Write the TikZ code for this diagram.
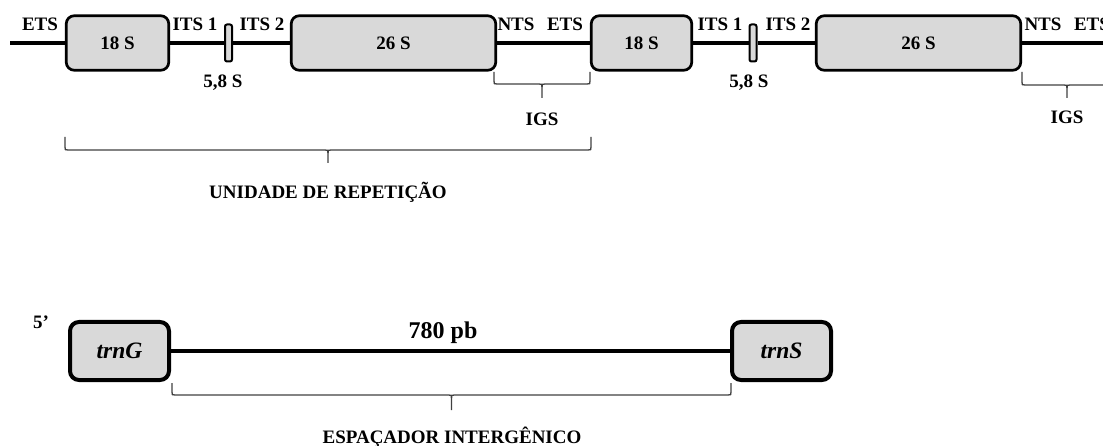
\documentclass[tikz,border=0pt]{standalone}
\usepackage{fontspec}
\setmainfont{Liberation Serif}
\definecolor{boxgray}{HTML}{D9D9D9}
\definecolor{bracegray}{HTML}{404040}
\tikzset{
 lab/.style={font=\fontsize{19}{22}\selectfont\bfseries, inner sep=0pt, anchor=base},
 rbox/.style={draw=black, fill=boxgray, line width=2.7pt, rounded corners=8pt, inner sep=0pt, minimum height=54.5pt, font=\fontsize{19}{22}\selectfont\bfseries},
 sbox/.style={draw=black, fill=boxgray, line width=2pt, rounded corners=2pt, inner sep=0pt, minimum width=7pt, minimum height=37pt},
 tbox/.style={draw=black, fill=boxgray, line width=4pt, rounded corners=9pt, inner sep=0pt, minimum width=99pt, minimum height=58pt, font=\fontsize{23.5}{26}\selectfont\bfseries\itshape},
 dna/.style={line width=4pt, line cap=butt},
 bracket/.style={draw=bracegray, line width=1.3pt},
}
\newcommand\myhbrace[5]{%
 \pgfmathsetmacro\bracemid{(#1+#2)/2}%
 \draw[bracket] (#1,#3) -- (#1,#4-3) .. controls (#1,#4) .. (#1+3,#4) -- (\bracemid-3,#4) .. controls (\bracemid,#4) .. (\bracemid,#4+3) -- (\bracemid,#5);
 \draw[bracket] (#2,#3) -- (#2,#4-3) .. controls (#2,#4) .. (#2-3,#4) -- (\bracemid+3,#4) .. controls (\bracemid,#4) .. (\bracemid,#4+3);
}
\begin{document}
\begin{tikzpicture}[x=1pt,y=-1pt]
\useasboundingbox (0,0) rectangle (1103,446);
% top row boxes
\node[rbox, minimum width=102.5pt] (a18) at (117.5,43) {18 S};
\node[sbox] (a58) at (228.5,43) {};
\node[rbox, minimum width=204.5pt] (a26) at (393.5,43) {26 S};
\node[rbox, minimum width=100.5pt] (b18) at (641.5,43) {18 S};
\node[sbox] (b58) at (753,43) {};
\node[rbox, minimum width=204.5pt] (b26) at (918.5,43) {26 S};
\coordinate (tstart) at (10,43);
\coordinate (tend) at (1115,43);
\draw[dna] (tstart) -- (a18.west);
\draw[dna] (a18.east) -- (a58.west);
\draw[dna] (a58.east) -- (a26.west);
\draw[dna] (a26.east) -- (b18.west);
\draw[dna] (b18.east) -- (b58.west);
\draw[dna] (b58.east) -- (b26.west);
\draw[dna] (b26.east) -- (tend);
% top labels
\node[lab] (ets1) at (40,31) {ETS};
\node[lab] (its11) at (195,31) {ITS 1};
\node[lab] (its21) at (262,31) {ITS 2};
\node[lab] (nts1) at (516,31) {NTS};
\node[lab] (ets2) at (565,31) {ETS};
\node[lab] (its12) at (720,31) {ITS 1};
\node[lab] (its22) at (788,31) {ITS 2};
\node[lab] (nts2) at (1043,31) {NTS};
\node[lab] (ets3) at (1092,31) {ETS};
\node[lab] (s581) at (223,88) {5,8 S};
\node[lab] (s582) at (749,88) {5,8 S};
% braces top
\myhbrace{494}{590}{72}{84}{98}
\myhbrace{1022}{1112}{72}{85}{98}
\node[lab] (igs1) at (542,126) {IGS};
\node[lab] (igs2) at (1067,124) {IGS};
\myhbrace{65}{591}{137}{150}{163}
\node[lab] (unid) at (328,199) {UNIDADE DE REPETIÇÃO};
% bottom row
\node[lab] (five) at (41,328) {5’};
\node[tbox] (trng) at (119.5,351) {trnG};
\node[tbox] (trns) at (781.5,351) {trnS};
\draw[line width=4.5pt] (trng.east) -- (trns.west);
\node[lab, font=\fontsize{24}{28}\selectfont\bfseries] (bp) at (443,338) {780 pb};
\myhbrace{172}{731}{383}{395}{410}
\node[lab] (esp) at (452,443) {ESPAÇADOR INTERGÊNICO};
\end{tikzpicture}
\end{document}
